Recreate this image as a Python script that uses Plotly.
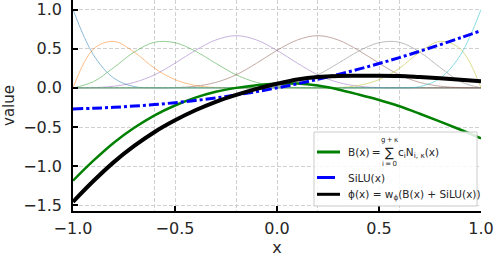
import plotly.graph_objects as go

# ---------------- data ----------------
x_vals = [-1.0, -0.9, -0.8, -0.7, -0.6, -0.5, -0.4, -0.3, -0.2, -0.1, 0.0,
          0.1, 0.2, 0.3, 0.4, 0.5, 0.6, 0.7, 0.8, 0.9, 1.0]

basis_0 = [1.0, 0.422, 0.125, 0.016, 0, 0, 0, 0, 0, 0, 0, 0, 0, 0, 0, 0, 0, 0, 0, 0, 0]
basis_1 = [0, 0.496, 0.594, 0.457, 0.25, 0.105, 0.031, 0.004, 0, 0, 0, 0, 0, 0, 0, 0, 0, 0, 0, 0, 0]
basis_2 = [0, 0.079, 0.260, 0.457, 0.583, 0.577, 0.469, 0.314, 0.167, 0.070, 0.021, 0.003,
           0, 0, 0, 0, 0, 0, 0, 0, 0]
basis_3 = [0, 0.003, 0.021, 0.070, 0.167, 0.315, 0.479, 0.612, 0.667, 0.612, 0.479, 0.315,
           0.167, 0.070, 0.021, 0.003, 0, 0, 0, 0, 0]
basis_4 = [0, 0, 0, 0, 0, 0.003, 0.021, 0.070, 0.167, 0.315, 0.479, 0.612, 0.667, 0.612,
           0.479, 0.315, 0.167, 0.070, 0.021, 0.003, 0]
basis_5 = [0, 0, 0, 0, 0, 0, 0, 0, 0, 0.003, 0.021, 0.070, 0.167, 0.314, 0.469, 0.577,
           0.583, 0.457, 0.260, 0.079, 0]
basis_6 = [0, 0, 0, 0, 0, 0, 0, 0, 0, 0, 0, 0, 0, 0.004, 0.031, 0.105, 0.25, 0.457, 0.594, 0.496, 0]
basis_7 = [0, 0, 0, 0, 0, 0, 0, 0, 0, 0, 0, 0, 0, 0, 0, 0, 0, 0.016, 0.125, 0.422, 1.0]

spline_B = [-1.185, -0.93, -0.70, -0.51, -0.35, -0.225, -0.125, -0.05, 0.0, 0.035, 0.052,
            0.055, 0.03, -0.02, -0.085, -0.155, -0.235, -0.33, -0.43, -0.535, -0.645]
silu_vals = [-0.269, -0.260, -0.248, -0.232, -0.213, -0.189, -0.161, -0.128, -0.090, -0.0475, 0.0,
             0.0525, 0.110, 0.172, 0.239, 0.311, 0.387, 0.468, 0.552, 0.640, 0.731]
phi_vals = [-1.455, -1.19, -0.948, -0.742, -0.563, -0.414, -0.286, -0.178, -0.090, -0.0125, 0.052,
            0.1075, 0.140, 0.152, 0.154, 0.156, 0.152, 0.138, 0.122, 0.105, 0.086]

x_ticks = [-1.0, -0.5, 0.0, 0.5, 1.0]
x_tick_text = ["\u22121.0", "\u22120.5", "0.0", "0.5", "1.0"]
knots = [-0.6, -0.2, 0.2, 0.6]
y_ticks = [1.0, 0.5, 0.0, -0.5, -1.0, -1.5]
y_tick_text = ["1.0", "0.5", "0.0", "\u22120.5", "\u22121.0", "\u22121.5"]

basis_list = [basis_0, basis_1, basis_2, basis_3, basis_4, basis_5, basis_6, basis_7]
basis_colors = ["#1f77b4", "#ff7f0e", "#2ca02c", "#9467bd",
                "#8c564b", "#7f7f7f", "#bcbd22", "#17becf"]

# ---------------- figure ----------------
FONT = "DejaVu Sans"
TXT = "#262626"
fig = go.Figure()

for vals, col in zip(basis_list, basis_colors):
    fig.add_trace(go.Scatter(x=x_vals, y=vals, mode="lines",
                             line=dict(color=col, width=1, shape="spline", smoothing=1.0),
                             opacity=0.5, showlegend=False, hoverinfo="skip"))

fig.add_trace(go.Scatter(x=x_vals, y=spline_B, mode="lines",
                         line=dict(color="#008000", width=2.5, shape="spline"),
                         showlegend=False))
fig.add_trace(go.Scatter(x=x_vals, y=silu_vals, mode="lines",
                         line=dict(color="#0000ff", width=3, shape="spline",
                                   dash="10px,3px,3px,3px"),
                         showlegend=False))
fig.add_trace(go.Scatter(x=x_vals, y=phi_vals, mode="lines",
                         line=dict(color="#000000", width=4, shape="spline"),
                         showlegend=False))

L, R, T, B = 73, 17, 0, 47
W, H = 498, 258
PW, PH = W - L - R, H - T - B


def px(v):
    return (v - L) / PW


def py(v):
    return (H - B - v) / PH


grid = dict(showgrid=True, gridcolor="#d0d0d0", gridwidth=1, griddash="4px,2px")

fig.update_layout(
    width=W, height=H,
    margin=dict(l=L, r=R, t=T, b=B, autoexpand=False),
    paper_bgcolor="white", plot_bgcolor="white",
    font=dict(family=FONT, color=TXT),
    showlegend=False,
    xaxis=dict(range=[-1.0, 1.0], tickvals=x_ticks, ticktext=x_tick_text,
               tickfont=dict(size=16, family=FONT, color=TXT),
               showline=True, linecolor="black", linewidth=1.5,
               ticks="inside", ticklen=5, tickwidth=1.5, tickcolor="black",
               zeroline=False, ticklabelstandoff=2, automargin=False,
               minor=dict(tickvals=knots, showgrid=True, gridcolor="#d0d0d0",
                          griddash="4px,2px", gridwidth=1, ticks=""),
               title=dict(text="x", font=dict(size=16, family=FONT, color=TXT), standoff=4),
               **grid),
    yaxis=dict(range=[-1.5725, 1.1225], tickvals=y_ticks, ticktext=y_tick_text,
               tickfont=dict(size=16, family=FONT, color=TXT),
               showline=True, linecolor="black", linewidth=1.5,
               ticks="inside", ticklen=5, tickwidth=1.5, tickcolor="black",
               zeroline=False, ticklabelstandoff=6, automargin=False,
               title=dict(text="value", font=dict(size=15, family=FONT, color=TXT), standoff=8),
               **grid),
)

# ---------------- hand-built legend (to reproduce the stacked sum limits) ----------------
fig.add_shape(type="rect", xref="paper", yref="paper",
              x0=px(314), x1=px(477), y0=py(206), y1=py(132),
              line=dict(color="#cccccc", width=1), fillcolor="rgba(255,255,255,0.85)",
              layer="above")
for y_pix, col, x_end in [(152, "#008000", 340), (177.5, "#0000ff", 335), (194.3, "#000000", 340)]:
    fig.add_shape(type="line", xref="paper", yref="paper",
                  x0=px(317), x1=px(x_end), y0=py(y_pix), y1=py(y_pix),
                  line=dict(color=col, width=3), layer="above")

LF = 10.5
ann = dict(xref="paper", yref="paper", showarrow=False, yanchor="middle",
           font=dict(size=LF, family=FONT, color=TXT))
fig.add_annotation(x=px(346), y=py(152), text="B(x)\u2009=", xanchor="left", **ann)
fig.add_annotation(x=px(389), y=py(152.5), text="\u2211", xanchor="center",
                   **{**ann, "font": dict(size=13, family=FONT, color=TXT)})
fig.add_annotation(x=px(389), y=py(140), text="g\u2009+\u2009\u03ba", xanchor="center",
                   **{**ann, "font": dict(size=7, family=FONT, color=TXT)})
fig.add_annotation(x=px(389), y=py(163.5), text="i\u2009=\u20090", xanchor="center",
                   **{**ann, "font": dict(size=7, family=FONT, color=TXT)})
fig.add_annotation(x=px(396), y=py(153), text="c<sub>i</sub>N<sub>i, \u03ba</sub>(x)",
                   xanchor="left", **ann)
fig.add_annotation(x=px(346), y=py(177.5), text="SiLU(x)", xanchor="left", **ann)
fig.add_annotation(x=px(346), y=py(195), text="\u03d5(x) = w<sub>\u03d5</sub>(B(x) + SiLU(x))",
                   xanchor="left", **ann)

fig.write_html("out.html", config={"displayModeBar": False},
               post_script="document.body.style.margin='0px';")
